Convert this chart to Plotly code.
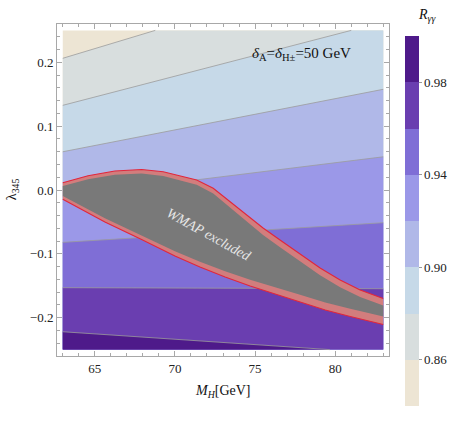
import plotly.graph_objects as go

# ---------------- data ----------------
M_MIN, M_MAX = 63.0, 83.0
LAM_MIN, LAM_MAX = -0.25, 0.25

# contour levels of R_gamma-gamma and their (straight) boundary lines:
# lambda_345 value of each level line at M_H = 63 and at M_H = 83 GeV
levels = [0.86, 0.88, 0.90, 0.92, 0.94, 0.96, 0.98]
lam_at_63 = [0.2063, 0.1326, 0.0599, -0.0100, -0.0820, -0.1530, -0.2220]
lam_at_83 = [0.3577, 0.2630, 0.1577, 0.0520, -0.0512, -0.1546, -0.2556]

# colour-bar range
r_min, r_max = 0.84, 1.00
cbar_ticks = [0.86, 0.90, 0.94, 0.98]
cbar_ticktext = ["0.86", "0.90", "0.94", "0.98"]

# WMAP excluded region (outer red edge and inner grey edge)
wmap_up_m = [63.0, 64.58, 66.25, 67.92, 69.27, 71.36, 72.39, 73.44, 74.48, 75.5, 76.56, 77.81, 79.06, 80.31, 81.56, 83.0]
wmap_up_lam = [0.0114, 0.0224, 0.0298, 0.0321, 0.0287, 0.0157, 0.0027, -0.0183, -0.0392, -0.0595, -0.0783, -0.1002, -0.1222, -0.1410, -0.1566, -0.1699]
wmap_up_inner = [0.0062, 0.0169, 0.0240, 0.0258, 0.0221, 0.0082, -0.0056, -0.0277, -0.0497, -0.0705, -0.0896, -0.1116, -0.1336, -0.1523, -0.1676, -0.1809]
wmap_lo_m = [63.0, 65.63, 67.92, 70.0, 71.56, 73.13, 74.69, 76.25, 77.81, 79.38, 80.94, 83.0]
wmap_lo_lam = [-0.0146, -0.0501, -0.0775, -0.1034, -0.1206, -0.1363, -0.1504, -0.1629, -0.1754, -0.1879, -0.1981, -0.2107]
wmap_lo_inner = [-0.0094, -0.0441, -0.0709, -0.0959, -0.1125, -0.1272, -0.1405, -0.1523, -0.1641, -0.1762, -0.1859, -0.1982]

x_tickvals = [65, 70, 75, 80]
x_ticktext = ["65", "70", "75", "80"]
y_tickvals = [-0.2, -0.1, 0.0, 0.1, 0.2]
y_ticktext = ["\u22120.2", "\u22120.1", "0.0", "0.1", "0.2"]

# ---------------- styles ----------------
band_colors = ["#EDE5D4", "#D8DEDE", "#C6D9E8", "#B0B8E8", "#9B98E8", "#7F6ED6", "#6A3EB0", "#4E1A8A"]
FONT = "Liberation Serif"
FRAME = "#A8A8A8"

# plot-area geometry in pixels (frame box)
PL, PR, PT, PB = 57.3, 389.0, 24.0, 356.0


def px2paper(px, py):
    return (px - PL) / (PR - PL), (PB - py) / (PB - PT)


def line_val(y0, y1, x):
    return y0 + (x - M_MIN) / (M_MAX - M_MIN) * (y1 - y0)


def breakpoints(y0, y1):
    xs = [M_MIN, M_MAX]
    for b in (LAM_MIN, LAM_MAX):
        if (y0 - b) * (y1 - b) < 0:
            xs.append(M_MIN + (b - y0) / (y1 - y0) * (M_MAX - M_MIN))
    return sorted(xs)


fig = go.Figure()

fig.add_trace(go.Scatter(
    x=[M_MIN, M_MAX, M_MAX, M_MIN], y=[LAM_MIN, LAM_MIN, LAM_MAX, LAM_MAX],
    fill="toself", fillcolor=band_colors[0], line=dict(width=0),
    mode="lines", hoverinfo="skip", showlegend=False))

for i in range(len(levels)):
    y0, y1 = lam_at_63[i], lam_at_83[i]
    xs = breakpoints(y0, y1)
    top = [min(max(line_val(y0, y1, x), LAM_MIN), LAM_MAX) for x in xs]
    px = [M_MIN] + xs + [M_MAX]
    py = [LAM_MIN] + top + [LAM_MIN]
    fig.add_trace(go.Scatter(
        x=px, y=py, fill="toself", fillcolor=band_colors[i + 1],
        line=dict(width=0), mode="lines", hoverinfo="skip", showlegend=False))

for i in range(len(levels)):
    y0, y1 = lam_at_63[i], lam_at_83[i]
    xs = breakpoints(y0, y1)
    seg_x, seg_y = [], []
    for x in xs:
        v = line_val(y0, y1, x)
        if LAM_MIN - 1e-9 <= v <= LAM_MAX + 1e-9:
            seg_x.append(x)
            seg_y.append(v)
    fig.add_trace(go.Scatter(
        x=seg_x, y=seg_y, mode="lines", line=dict(color="#9C9C9C", width=0.8),
        hoverinfo="skip", showlegend=False))

fig.add_trace(go.Scatter(
    x=wmap_up_m + wmap_lo_m[::-1], y=wmap_up_lam + wmap_lo_lam[::-1],
    fill="toself", fillcolor="#D27D7D", line=dict(width=0), mode="lines",
    hoverinfo="skip", showlegend=False))
fig.add_trace(go.Scatter(
    x=wmap_up_m + wmap_lo_m[::-1], y=wmap_up_inner + wmap_lo_inner[::-1],
    fill="toself", fillcolor="#797979", line=dict(width=0), mode="lines",
    hoverinfo="skip", showlegend=False))
for xs_, ys_ in ((wmap_up_m, wmap_up_lam), (wmap_lo_m, wmap_lo_lam)):
    fig.add_trace(go.Scatter(
        x=xs_, y=ys_, mode="lines", line=dict(color="#E2263C", width=1.1),
        hoverinfo="skip", showlegend=False))

cs = []
n = len(band_colors)
for k, c in enumerate(band_colors):
    cs.append([k / n, c])
    cs.append([(k + 1) / n, c])
cbx, cby = px2paper(405, 406)
fig.add_trace(go.Scatter(
    x=[73], y=[0], mode="markers",
    marker=dict(size=1, opacity=0, color=[r_min], cmin=r_min, cmax=r_max,
                colorscale=cs, showscale=True,
                colorbar=dict(
                    x=cbx, xanchor="left", y=cby, yanchor="bottom",
                    lenmode="fraction", len=(406 - 36) / (PB - PT),
                    thicknessmode="pixels", thickness=14,
                    xpad=0, ypad=0, outlinewidth=0,
                    tickvals=cbar_ticks, ticktext=cbar_ticktext,
                    ticks="outside", ticklen=3, tickcolor="#999999",
                    tickfont=dict(family=FONT, size=13, color="#222222"))),
    hoverinfo="skip", showlegend=False))

annots = []


def add_text(px, py, text, size, color="#111", angle=0):
    ax, ay = px2paper(px, py)
    annots.append(dict(x=ax, y=ay, xref="paper", yref="paper", text=text,
                       xanchor="center", yanchor="middle", textangle=angle,
                       showarrow=False, font=dict(family=FONT, size=size, color=color)))


add_text(12.5, 189, "λ<sub>345</sub>", 14, angle=-90)
add_text(223, 391, "<i>M<sub>H</sub></i>[GeV]", 14)
add_text(427, 16, "<i>R<sub>γγ</sub></i>", 14)
add_text(302, 54, "<i>δ</i><sub>A</sub>=<i>δ</i><sub>H±</sub>=50 GeV", 15)
add_text(209, 234, "<i>WMAP excluded</i>", 14, color="#E6E6E6", angle=29)

fig.update_layout(
    width=457, height=426,
    margin=dict(l=57, r=68, t=24, b=70, autoexpand=False),
    paper_bgcolor="white", plot_bgcolor="white",
    annotations=annots,
    hovermode=False,
    xaxis=dict(range=[62.64, 83.36], showgrid=False, zeroline=False,
               showline=True, linecolor=FRAME, linewidth=1, mirror="ticks",
               ticks="inside", ticklen=5, tickcolor=FRAME, tickwidth=1,
               tickvals=x_tickvals, ticktext=x_ticktext,
               minor=dict(dtick=1, ticks="inside", ticklen=3, tickcolor=FRAME, showgrid=False),
               tickfont=dict(family=FONT, size=13, color="#222")),
    yaxis=dict(range=[-0.26, 0.26], showgrid=False, zeroline=False,
               showline=True, linecolor=FRAME, linewidth=1, mirror="ticks",
               ticks="inside", ticklen=5, tickcolor=FRAME, tickwidth=1,
               tickvals=y_tickvals, ticktext=y_ticktext,
               minor=dict(tick0=0, dtick=0.02, ticks="inside", ticklen=3, tickcolor=FRAME, showgrid=False),
               tickfont=dict(family=FONT, size=13, color="#222")),
)

fig.write_html("out.html", config={"displayModeBar": False},
               post_script="document.body.style.margin='0px';")
